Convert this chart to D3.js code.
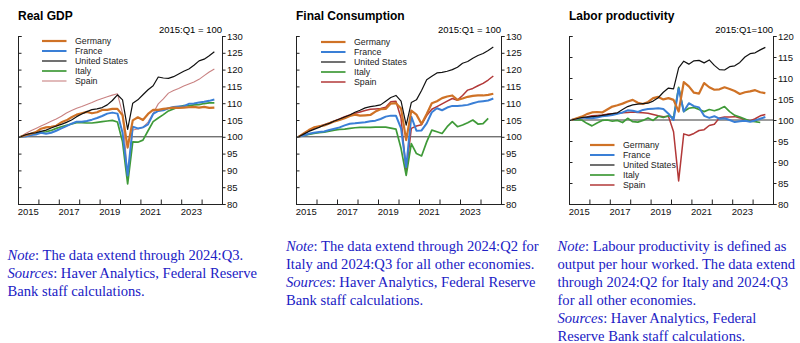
<!DOCTYPE html>
<html>
<head>
<meta charset="utf-8">
<script src="https://cdn.jsdelivr.net/npm/d3@7"></script>
<style>
  body { margin: 0; background: #fff; }
  svg text { font-family: "Liberation Sans", Arial, Helvetica, sans-serif; }
  .note { font-family: "Liberation Serif", "Times New Roman", serif; fill: #2020c4; font-size: 14.6px; }
</style>
</head>
<body>
<div id="chart"></div>
<script>
// quarterly categories, 2015:Q1 - 2024:Q3
var quarters = [
  "2015Q1","2015Q2","2015Q3","2015Q4","2016Q1","2016Q2","2016Q3","2016Q4",
  "2017Q1","2017Q2","2017Q3","2017Q4","2018Q1","2018Q2","2018Q3","2018Q4",
  "2019Q1","2019Q2","2019Q3","2019Q4","2020Q1","2020Q2","2020Q3","2020Q4",
  "2021Q1","2021Q2","2021Q3","2021Q4","2022Q1","2022Q2","2022Q3","2022Q4",
  "2023Q1","2023Q2","2023Q3","2023Q4","2024Q1","2024Q2","2024Q3"
];
var yearTicks = [2015, 2016, 2017, 2018, 2019, 2020, 2021, 2022, 2023, 2024];
var yearLabels = [2015, 2017, 2019, 2021, 2023];
var countries = ["Germany", "France", "United States", "Italy", "Spain"];

// Real GDP, 2015:Q1 = 100
var gdpGermany = [100.0,100.5,100.9,101.4, 102.4,102.8,103.0,103.3, 104.3,104.9,105.8,106.6,
  107.0,107.4,107.0,107.3, 108.0,108.0,108.3,108.3, 106.4,96.8,104.9,105.8,
  105.0,106.8,108.0,108.0, 108.3,108.5,108.7,108.6, 108.7,108.8,108.9,108.7, 108.9,108.6,108.7];
var gdpFrance = [100.0,100.1,100.5,100.7, 101.2,100.9,101.2,101.8, 102.5,103.2,103.9,104.5,
  104.5,104.7,105.1,105.6, 106.2,106.9,107.2,106.9, 101.2,88.5,103.0,102.5,
  102.8,103.7,106.8,107.7, 107.9,108.5,108.9,109.0, 109.1,109.8,109.9,110.2, 110.4,110.7,111.1];
var gdpUS = [100.0,100.6,101.0,101.2, 101.6,102.0,102.6,103.2, 103.7,104.3,105.0,106.0,
  106.8,107.5,108.1,108.3, 108.7,109.5,110.8,112.5, 111.0,102.2,110.0,111.0,
  112.5,114.0,115.2,117.8, 117.5,117.4,117.9,118.7, 119.5,120.2,121.3,122.6, 123.1,124.1,125.3];
var gdpItaly = [100.0,100.3,100.6,100.9, 101.3,101.5,101.9,102.5, 103.0,103.4,103.8,104.2,
  104.2,104.1,104.1,104.3, 104.5,104.7,104.9,104.4, 98.5,86.0,98.5,98.4,
  99.0,101.8,104.5,105.6, 106.6,107.7,108.3,108.9, 109.3,109.2,109.5,109.6, 109.9,110.1,110.1];
var gdpSpain = [100.0,101.0,101.8,102.5, 103.2,103.9,104.6,105.3, 106.1,107.1,107.8,108.5,
  109.0,109.6,110.2,110.9, 111.4,111.9,112.4,112.8, 107.0,88.5,102.0,102.3,
  102.8,104.4,107.0,109.8, 111.3,113.0,113.8,114.4, 115.1,115.7,116.3,117.1, 118.2,119.3,120.2];

// Final consumption, 2015:Q1 = 100 (Italy through 2024:Q2)
var consGermany = [100.0,101.0,102.0,102.8, 103.1,103.4,104.0,104.6, 105.0,105.5,106.2,106.6,
  106.3,106.4,106.5,107.5, 108.2,108.3,109.9,110.0, 108.4,99.0,107.8,106.6,
  103.8,106.8,110.0,110.6, 111.5,112.0,112.3,111.0, 111.4,111.9,112.2,112.3, 112.3,112.5,112.8];
var consFrance = [100.0,100.4,100.9,101.2, 101.4,101.6,102.0,102.4, 102.8,103.4,103.9,104.0,
  104.2,104.3,104.6,104.8, 105.3,106.0,106.3,106.3, 102.5,91.0,106.0,101.8,
  101.9,104.0,107.3,108.5, 107.9,108.7,109.2,109.2, 109.3,109.5,110.0,110.4, 110.6,110.8,111.4];
var consUS = [100.0,100.8,101.6,102.2, 102.8,103.5,104.0,104.7, 105.3,105.9,106.5,107.3,
  107.9,108.6,109.0,109.2, 109.5,110.6,111.7,112.3, 110.6,103.5,110.2,111.0,
  113.8,117.0,118.0,119.0, 119.2,119.5,120.0,120.7, 121.9,122.4,123.4,124.2, 124.8,125.7,126.7];
var consItaly = [100.0,100.4,100.7,101.0, 101.2,101.4,101.7,102.0, 102.2,102.3,102.5,102.7,
  102.8,102.8,102.8,102.9, 102.9,102.9,102.6,102.3, 96.5,88.5,98.0,95.0,
  94.3,98.5,102.0,101.5, 101.0,103.0,104.5,103.0, 103.5,104.2,105.0,103.8, 103.9,105.5];
var consSpain = [100.0,100.9,101.8,102.6, 103.1,103.6,104.1,104.7, 105.3,106.0,106.5,107.0,
  107.4,107.8,108.2,108.3, 108.4,108.8,110.4,110.6, 105.5,89.5,102.5,103.2,
  103.6,106.3,108.2,109.0, 109.8,110.6,111.4,110.9, 112.3,113.9,114.4,115.2, 115.9,116.9,118.1];

// Labor productivity, 2015:Q1 = 100 (Italy through 2024:Q2)
var prodGermany = [100.0,100.4,100.8,101.4, 101.8,101.9,101.8,102.5, 103.2,103.5,103.9,104.4,
  104.8,104.1,103.8,104.3, 105.2,105.5,104.9,105.2, 104.8,102.0,109.0,108.0,
  106.5,106.3,108.8,107.8, 107.2,107.3,107.8,107.4, 106.9,106.2,106.6,106.8, 107.1,106.6,106.4];
var prodFrance = [100.0,100.3,100.6,100.5, 100.4,100.6,100.9,101.0, 101.2,101.5,101.8,102.3,
  102.2,101.9,102.4,102.6, 102.7,102.8,102.6,101.5, 100.0,107.5,102.0,104.0,
  103.3,103.0,101.0,100.5, 100.9,100.3,100.4,100.0, 99.5,99.7,99.8,99.6, 99.9,100.3,100.7];
var prodUS = [100.0,100.3,100.6,100.7, 100.8,100.9,101.1,101.3, 101.5,101.7,102.5,103.2,
  103.6,103.8,103.9,104.0, 104.5,105.3,106.6,107.6, 107.4,112.4,114.0,113.3,
  114.1,114.2,113.6,114.3, 113.0,112.0,111.9,112.7, 112.9,113.7,115.0,115.8, 116.0,116.7,117.3];
var prodItaly = [100.0,100.1,100.0,99.2, 98.6,99.3,99.9,100.0, 99.7,99.9,99.4,100.4,
  99.6,99.5,99.9,100.5, 99.9,100.9,100.6,101.0, 100.6,107.8,102.0,102.8,
  103.0,102.5,102.0,102.5, 102.2,102.6,103.2,102.0, 101.1,100.7,100.2,99.7, 99.6,99.4];
var prodSpain = [100.0,100.3,100.5,100.7, 101.0,101.1,101.2,101.4, 101.5,101.6,101.7,101.8,
  101.9,101.8,101.7,101.6, 101.3,101.0,100.8,100.9, 97.2,85.5,96.7,96.3,
  96.8,97.5,97.7,98.7, 99.0,100.5,100.7,100.7, 100.8,100.5,100.0,99.8, 100.3,101.0,101.3];

var gdpTicks = [80, 85, 90, 95, 100, 105, 110, 115, 120, 125, 130];
var prodTicks = [80, 85, 90, 95, 100, 105, 110, 115, 120];

// chart setup
var svg = d3.select("#chart").append("svg")
  .attr("width", 800)
  .attr("height", 343);

var colors = {
  "Germany": "#cf7226",
  "France": "#3a7fd6",
  "United States": "#111111",
  "Italy": "#3f9a38",
  "Spain": "#b23838"
};
var widths = { "Germany": 2.2, "France": 2.0, "United States": 1.2, "Italy": 1.7, "Spain": 1.5 };

var panels = [
  { title: "Real GDP", base: "2015:Q1 = 100", left: 18, right: 222, ticks: gdpTicks,
    series: [gdpGermany, gdpFrance, gdpUS, gdpItaly, gdpSpain],
    spainColor: "#c98282", spainWidth: 1.1, legendX: 42, legendY: 41,
    note: [["Note", ": The data extend through 2024:Q3."],
           ["Sources", ": Haver Analytics, Federal Reserve"],
           ["", "Bank staff calculations."]],
    noteX: 7.5, noteY: 260 },
  { title: "Final Consumption", base: "2015:Q1 = 100", left: 296, right: 501, ticks: gdpTicks,
    series: [consGermany, consFrance, consUS, consItaly, consSpain],
    spainColor: "#b23838", spainWidth: 1.5, legendX: 321, legendY: 42,
    note: [["Note", ": The data extend through 2024:Q2 for"],
           ["", "Italy and 2024:Q3 for all other economies."],
           ["Sources", ": Haver Analytics, Federal Reserve"],
           ["", "Bank staff calculations."]],
    noteX: 286, noteY: 251 },
  { title: "Labor productivity", base: "2015:Q1=100", left: 569, right: 773, ticks: prodTicks,
    series: [prodGermany, prodFrance, prodUS, prodItaly, prodSpain],
    spainColor: "#b23838", spainWidth: 1.5, legendX: 590, legendY: 145,
    note: [["Note", ": Labour productivity is defined as"],
           ["", "output per hour worked. The data extend"],
           ["", "through 2024:Q2 for Italy and 2024:Q3"],
           ["", "for all other economies."],
           ["Sources", ": Haver Analytics, Federal"],
           ["", "Reserve Bank staff calculations."]],
    noteX: 557.5, noteY: 250.5 }
];

var plotTop = 36, plotBottom = 204;

// quarter label -> fractional year (middle of quarter)
function qDate(q) {
  return +q.slice(0, 4) + (+q.slice(5) - 0.5) / 4;
}

panels.forEach(function(p) {
  var g = svg.append("g");

  var x = d3.scaleLinear().domain([2015, 2025]).range([p.left, p.right]);
  var y = d3.scaleLinear().domain([d3.min(p.ticks), d3.max(p.ticks)]).range([plotBottom, plotTop]);

  // title
  g.append("text")
    .attr("x", p.left).attr("y", 19.5)
    .style("font-size", "12px").style("font-weight", "bold")
    .text(p.title);

  g.append("text")
    .attr("x", p.right).attr("y", 32.5)
    .attr("text-anchor", "end")
    .style("font-size", "9.5px")
    .text(p.base);

  // right axis with labels
  var rightAxis = g.append("g")
    .attr("transform", "translate(" + p.right + ",0)")
    .call(d3.axisRight(y).tickValues(p.ticks).tickSize(3.5).tickPadding(1.5).tickFormat(d3.format("d")));
  rightAxis.select(".domain").attr("stroke", "#222");
  rightAxis.selectAll(".tick line").attr("stroke", "#222");
  rightAxis.selectAll("text").style("font-size", "9.5px").attr("fill", "#111");

  // left frame with inward ticks
  var leftAxis = g.append("g")
    .attr("transform", "translate(" + p.left + ",0)")
    .call(d3.axisRight(y).tickValues(p.ticks).tickSize(3.5).tickFormat(""));
  leftAxis.select(".domain").attr("stroke", "#222");
  leftAxis.selectAll(".tick line").attr("stroke", "#222");

  // bottom axis, ticks pointing up
  var bottomAxis = g.append("g")
    .attr("transform", "translate(0," + plotBottom + ")")
    .call(d3.axisTop(x).tickValues(yearTicks).tickSize(4.5).tickFormat(""));
  bottomAxis.select(".domain").attr("stroke", "#222");
  bottomAxis.selectAll(".tick line").attr("stroke", "#222");

  g.selectAll(".yearlab")
    .data(yearLabels)
    .join("text")
    .attr("class", "yearlab")
    .attr("x", d => x(d + 0.5))
    .attr("y", plotBottom + 10.5)
    .attr("text-anchor", "middle")
    .style("font-size", "9.5px")
    .attr("fill", "#111")
    .text(d => d);

  // reference line at 100
  g.append("line")
    .attr("x1", p.left).attr("x2", p.right)
    .attr("y1", y(100)).attr("y2", y(100))
    .attr("stroke", "#222").attr("stroke-width", 0.9);

  var line = d3.line()
    .x((d, i) => x(qDate(quarters[i])))
    .y(d => y(d));

  var order = [4, 3, 1, 0, 2];
  order.forEach(function(k) {
    var name = countries[k];
    g.append("path")
      .datum(p.series[k])
      .attr("fill", "none")
      .attr("stroke", name === "Spain" ? p.spainColor : colors[name])
      .attr("stroke-width", name === "Spain" ? p.spainWidth : widths[name])
      .attr("stroke-linejoin", "round")
      .attr("d", line);
  });

  // legend
  var leg = g.append("g").attr("transform", "translate(" + p.legendX + "," + p.legendY + ")");
  countries.forEach(function(name, i) {
    leg.append("line")
      .attr("x1", 0).attr("x2", 24.5)
      .attr("y1", i * 10).attr("y2", i * 10)
      .attr("stroke", name === "Spain" ? p.spainColor : colors[name])
      .attr("stroke-width", name === "Spain" ? p.spainWidth : widths[name]);
    leg.append("text")
      .attr("x", 33).attr("y", i * 10 + 3.2)
      .style("font-size", "8.8px")
      .attr("fill", "#222")
      .text(name);
  });

  // note under the chart
  p.note.forEach(function(l, i) {
    var t = g.append("text").attr("class", "note")
      .attr("x", p.noteX).attr("y", p.noteY + i * 18.1);
    if (l[0]) t.append("tspan").style("font-style", "italic").text(l[0]);
    t.append("tspan").text(l[1]);
  });
});
</script>
</body>
</html>
